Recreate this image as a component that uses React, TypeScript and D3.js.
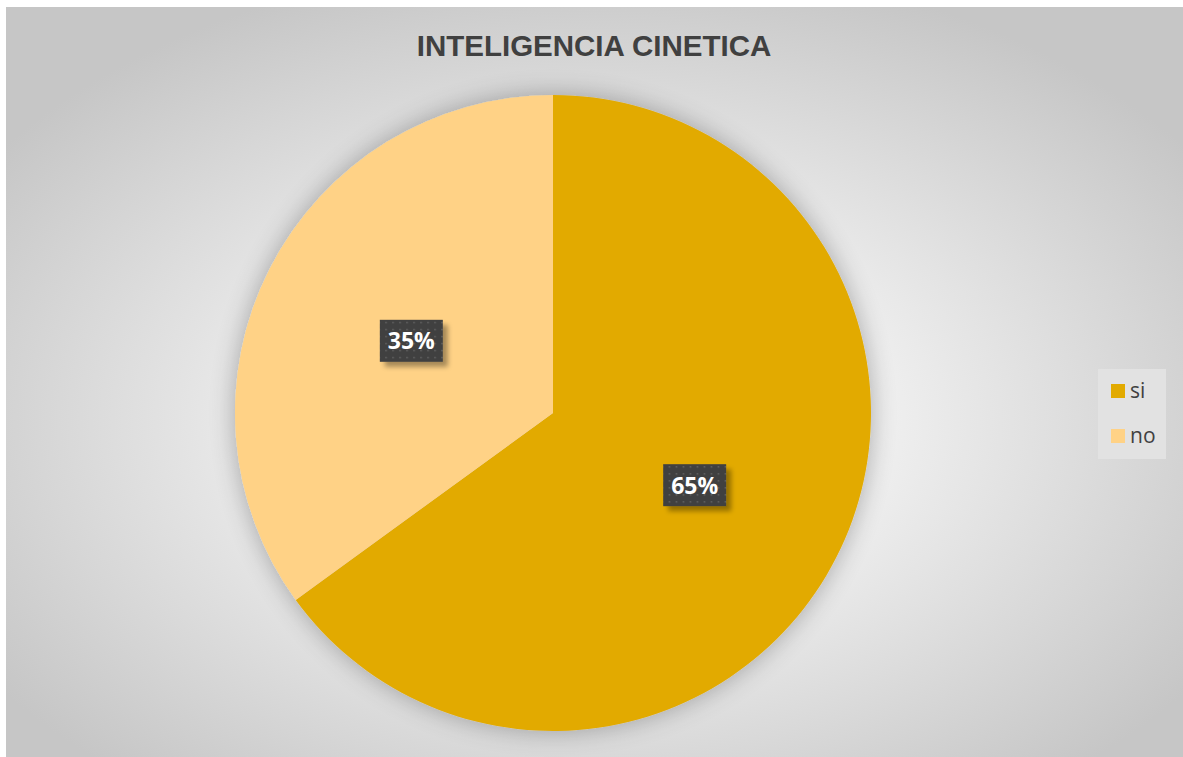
import React from "react";
import * as d3 from "d3";

const categories = ["si", "no"];
const values = [65, 35];
const labels = ["65%", "35%"];
const colors = ["#E2AA00", "#FFD286"];
const title = "INTELIGENCIA CINETICA";

const W = 1183;
const H = 757;

export default function App() {
  const cx = 553;
  const cy = 413;
  const r = 318;
  const pie = d3.pie<number>().sort(null).value((d) => d)(values);
  const arc = d3.arc<d3.PieArcDatum<number>>().innerRadius(0).outerRadius(r);
  const legendY = d3.scalePoint<string>().domain(categories).range([391, 436]);
  return (
    <svg
      width={W}
      height={H}
      style={{ position: "absolute", left: 0, top: 0, display: "block" }}
      fontFamily="'Liberation Sans', Arial, sans-serif"
    >
      <defs>
        <radialGradient id="bg" cx="0.5" cy="0.55" r="0.62">
          <stop offset="0" stopColor="#ffffff" />
          <stop offset="0.35" stopColor="#f2f2f2" />
          <stop offset="1" stopColor="#c6c6c6" />
        </radialGradient>
        <filter id="pieShadow" x="-20%" y="-20%" width="140%" height="140%">
          <feGaussianBlur in="SourceAlpha" stdDeviation="13" />
          <feOffset dx="0" dy="0" result="b" />
          <feComponentTransfer>
            <feFuncA type="linear" slope="0.3" />
          </feComponentTransfer>
          <feMerge>
            <feMergeNode />
            <feMergeNode in="SourceGraphic" />
          </feMerge>
        </filter>
        <filter id="boxShadow" x="-30%" y="-30%" width="160%" height="160%">
          <feGaussianBlur in="SourceAlpha" stdDeviation="2.5" />
          <feOffset dx="5" dy="5" />
          <feComponentTransfer>
            <feFuncA type="linear" slope="0.35" />
          </feComponentTransfer>
          <feMerge>
            <feMergeNode />
            <feMergeNode in="SourceGraphic" />
          </feMerge>
        </filter>
        <pattern id="dots" width="7" height="7" patternUnits="userSpaceOnUse">
          <rect width="7" height="7" fill="#404040" />
          <rect x="2" y="2" width="1.4" height="1.4" fill="#6a6a6a" />
        </pattern>
      </defs>
      <rect x={0} y={0} width={W} height={H} fill="#ffffff" />
      <rect x={6} y={7} width={W - 6} height={H - 7} fill="url(#bg)" />
      <text
        x={594}
        y={56}
        textAnchor="middle"
        fontSize={29.5}
        fontWeight="bold"
        fill="#404040"
      >
        {title}
      </text>
      <g transform={`translate(${cx},${cy})`} filter="url(#pieShadow)">
        {pie.map((p, i) => (
          <path key={categories[i]} d={arc(p) || ""} fill={colors[i]} />
        ))}
      </g>
      <g transform={`translate(${cx},${cy})`}>
        {pie.map((p, i) => {
          const [x, y] = arc.centroid(p);
          const bw = 63;
          const bh = 42;
          return (
            <g key={labels[i]} transform={`translate(${x},${y})`}>
              <rect
                x={-bw / 2}
                y={-bh / 2}
                width={bw}
                height={bh}
                fill="url(#dots)"
                filter="url(#boxShadow)"
              />
              <text
                x={0}
                y={8.5}
                textAnchor="middle"
                fontSize={23}
                fontWeight="bold"
                fill="#ffffff"
                fontFamily="'Open Sans', sans-serif"
              >
                {labels[i]}
              </text>
            </g>
          );
        })}
      </g>
      <rect x={1098} y={369} width={68} height={90} fill="#e2e2e2" />
      {categories.map((c, i) => {
        const y = legendY(c) as number;
        return (
          <g key={c}>
            <rect x={1111} y={y - 7} width={14} height={14} fill={colors[i]} />
            <text
              x={1130}
              y={y + 7}
              fontSize={21}
              fill="#404040"
              fontFamily="'Open Sans', sans-serif"
            >
              {c}
            </text>
          </g>
        );
      })}
    </svg>
  );
}
